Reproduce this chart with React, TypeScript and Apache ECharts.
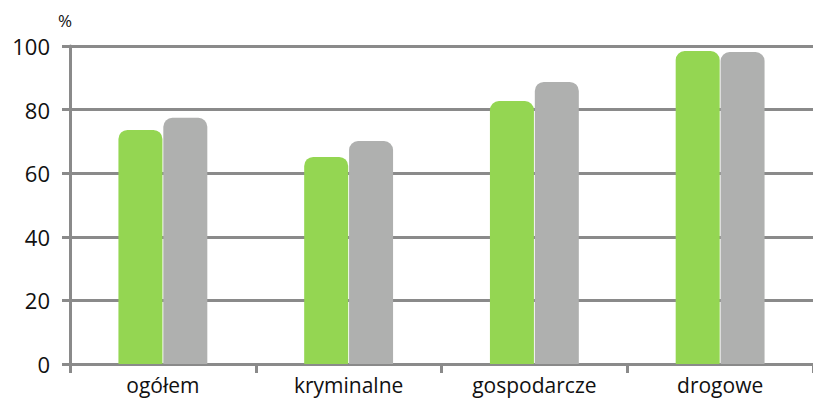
import React, { useEffect, useRef } from "react";
import * as echarts from "echarts";

const categories = ["ogółem", "kryminalne", "gospodarcze", "drogowe"];
const seriesA = [73.6, 65.1, 82.7, 98.4];
const seriesB = [77.4, 70.1, 88.7, 98.1];
const yTicks = [0, 20, 40, 60, 80, 100];

export default function App() {
  const ref = useRef<HTMLDivElement>(null);
  useEffect(() => {
    const chart = echarts.init(ref.current!, null, { renderer: "svg" });
    const font = "'Open Sans', 'Noto Sans', sans-serif";
    chart.setOption({
      animation: false,
      grid: { left: 70, right: 0, top: 46, bottom: 37 },
      graphic: [
        {
          type: "text",
          left: 58,
          top: 12,
          style: { text: "%", fontSize: 17, fontFamily: font, fill: "#111" },
        },
      ],
      xAxis: {
        type: "category",
        data: categories,
        axisLine: { show: true, lineStyle: { color: "#8a8a8a", width: 3 } },
        axisTick: { show: true, length: 9, lineStyle: { color: "#8a8a8a", width: 3 } },
        axisLabel: { fontSize: 21, fontFamily: font, color: "#111", margin: 10 },
      },
      yAxis: {
        type: "value",
        min: yTicks[0],
        max: yTicks[yTicks.length - 1],
        interval: 20,
        axisLine: { show: true, lineStyle: { color: "#8a8a8a", width: 3 } },
        axisTick: { show: true, length: 8, lineStyle: { color: "#8a8a8a", width: 3 } },
        splitLine: { show: true, lineStyle: { color: "#8a8a8a", width: 3 } },
        axisLabel: { fontSize: 22, fontFamily: font, color: "#111", margin: 20 },
      },
      series: [
        {
          type: "bar",
          data: seriesA,
          barWidth: 44,
          barGap: "2%",
          itemStyle: { color: "#94d652", borderRadius: [9, 9, 0, 0] },
        },
        {
          type: "bar",
          data: seriesB,
          barWidth: 44,
          itemStyle: { color: "#afb0af", borderRadius: [9, 9, 0, 0] },
        },
      ],
    });
    return () => chart.dispose();
  }, []);
  return (
    <div
      ref={ref}
      style={{ position: "fixed", left: 0, top: 0, width: 813, height: 401, background: "#fff" }}
    />
  );
}
